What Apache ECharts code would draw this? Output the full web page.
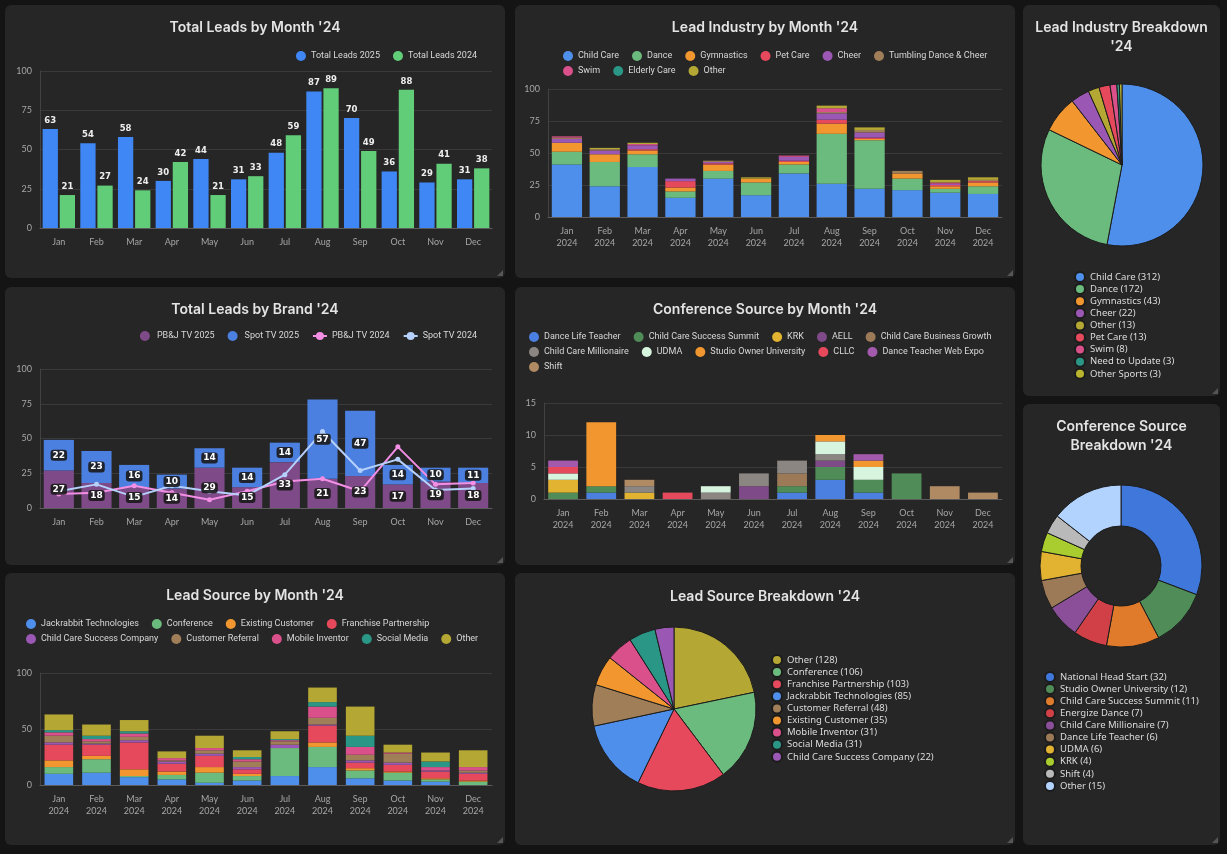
<!DOCTYPE html>
<html>
<head>
<meta charset="utf-8">
<script src="https://cdn.jsdelivr.net/npm/echarts@6/dist/echarts.min.js"></script>
<style>
body { margin: 0; background: #141414; width: 1227px; height: 854px; overflow: hidden; }
.panel { position: absolute; background: #262626; border-radius: 6px; }
.panel::after { content: ''; position: absolute; right: 2px; bottom: 2px; width: 0; height: 0;
  border-left: 6px solid transparent; border-bottom: 6px solid #555; }
.chart { width: 100%; height: 100%; }
</style>
</head>
<body>
<div class="panel" style="left:5px;top:5px;width:500px;height:273px"><div id="p1" class="chart"></div></div>
<div class="panel" style="left:515px;top:5px;width:500px;height:273px"><div id="p2" class="chart"></div></div>
<div class="panel" style="left:1023px;top:5px;width:197px;height:391px"><div id="p3" class="chart"></div></div>
<div class="panel" style="left:5px;top:287px;width:500px;height:278px"><div id="p4" class="chart"></div></div>
<div class="panel" style="left:515px;top:287px;width:500px;height:278px"><div id="p5" class="chart"></div></div>
<div class="panel" style="left:1023px;top:404px;width:197px;height:441px"><div id="p6" class="chart"></div></div>
<div class="panel" style="left:5px;top:573px;width:500px;height:272px"><div id="p7" class="chart"></div></div>
<div class="panel" style="left:515px;top:573px;width:500px;height:272px"><div id="p8" class="chart"></div></div>

<script>
// ---- data ----
const months = ['Jan', 'Feb', 'Mar', 'Apr', 'May', 'Jun', 'Jul', 'Aug', 'Sep', 'Oct', 'Nov', 'Dec']
const monthLabels2024 = ['Jan\n2024', 'Feb\n2024', 'Mar\n2024', 'Apr\n2024', 'May\n2024', 'Jun\n2024',
  'Jul\n2024', 'Aug\n2024', 'Sep\n2024', 'Oct\n2024', 'Nov\n2024', 'Dec\n2024']

// Total Leads by Month
const totalLeads2025 = [63, 54, 58, 30, 44, 31, 48, 87, 70, 36, 29, 31]
const totalLeads2024 = [21, 27, 24, 42, 21, 33, 59, 89, 49, 88, 41, 38]

// Lead Industry by Month
const industryNames = ['Child Care', 'Dance', 'Gymnastics', 'Pet Care', 'Cheer', 'Tumbling Dance & Cheer', 'Swim', 'Elderly Care', 'Other']
const indChildCare = [41, 24, 39, 15, 30, 17, 34, 26, 22, 21, 19, 18]
const indDance = [10, 19, 10, 5, 6, 10, 7, 39, 38, 9, 3, 6]
const indGymnastics = [7, 6, 3, 3, 5, 3, 2, 8, 1, 4, 2, 3]
const indPetCare = [0, 0, 1, 5, 1, 0, 1, 3, 1, 0, 1, 1]
const indCheer = [3, 3, 3, 2, 1, 0, 3, 5, 4, 0, 1, 0]
const indTumbling = [1, 1, 0, 0, 1, 0, 0, 1, 2, 2, 0, 1]
const indSwim = [1, 0, 1, 0, 0, 0, 1, 3, 0, 0, 1, 0]
const indElderly = [0, 0, 0, 0, 0, 0, 0, 0, 0, 0, 0, 0]
const indOther = [0, 1, 1, 0, 0, 1, 0, 2, 2, 0, 2, 2]

// Lead Industry Breakdown
const industryPieNames = ['Child Care', 'Dance', 'Gymnastics', 'Cheer', 'Other', 'Pet Care', 'Swim', 'Need to Update', 'Other Sports']
const industryPieValues = [312, 172, 43, 22, 13, 13, 8, 3, 3]

// Total Leads by Brand
const pbjTv2025 = [27, 18, 15, 14, 29, 15, 33, 21, 23, 17, 19, 18]
const spotTv2025 = [22, 23, 16, 10, 14, 14, 14, 57, 47, 14, 10, 11]
const pbjTv2024 = [10, 11, 16, 11, 6, 12, 19, 21, 12, 44, 17, 18]
const spotTv2024 = [12, 17, 8, 16, 12, 9, 24, 55, 27, 35, 13, 14]

// Conference Source by Month
const confNames = ['Dance Life Teacher', 'Child Care Success Summit', 'KRK', 'AELL', 'Child Care Business Growth',
  'Child Care Millionaire', 'UDMA', 'Studio Owner University', 'CLLC', 'Dance Teacher Web Expo', 'Shift']
const confDanceLife = [0, 1, 0, 0, 0, 0, 1, 3, 1, 0, 0, 0]
const confCCSummit = [1, 1, 0, 0, 0, 0, 1, 2, 2, 4, 0, 0]
const confKRK = [2, 0, 1, 0, 0, 0, 0, 0, 0, 0, 0, 0]
const confAELL = [0, 0, 0, 0, 0, 2, 0, 1, 0, 0, 0, 0]
const confCCBusiness = [0, 0, 0, 0, 0, 0, 2, 0, 0, 0, 0, 0]
const confCCMillionaire = [0, 0, 1, 0, 1, 2, 2, 1, 0, 0, 0, 0]
const confUDMA = [1, 0, 0, 0, 1, 0, 0, 2, 2, 0, 0, 0]
const confStudioOwner = [0, 10, 0, 0, 0, 0, 0, 1, 1, 0, 0, 0]
const confCLLC = [1, 0, 0, 1, 0, 0, 0, 0, 0, 0, 0, 0]
const confDanceWebExpo = [1, 0, 0, 0, 0, 0, 0, 0, 1, 0, 0, 0]
const confShift = [0, 0, 1, 0, 0, 0, 0, 0, 0, 0, 2, 1]

// Conference Source Breakdown
const confPieNames = ['National Head Start', 'Studio Owner University', 'Child Care Success Summit', 'Energize Dance',
  'Child Care Millionaire', 'Dance Life Teacher', 'UDMA', 'KRK', 'Shift', 'Other']
const confPieValues = [32, 12, 11, 7, 7, 6, 6, 4, 4, 15]

// Lead Source by Month
const sourceNames = ['Jackrabbit Technologies', 'Conference', 'Existing Customer', 'Franchise Partnership',
  'Child Care Success Company', 'Customer Referral', 'Mobile Inventor', 'Social Media', 'Other']
const srcJackrabbit = [10, 11, 7, 5, 2, 4, 8, 16, 6, 4, 3, 0]
const srcConference = [6, 12, 1, 4, 9, 4, 25, 18, 7, 7, 2, 3]
const srcExisting = [6, 3, 6, 3, 5, 2, 0, 4, 2, 1, 1, 1]
const srcFranchise = [14, 10, 24, 7, 10, 4, 0, 15, 5, 6, 6, 6]
const srcCCSuccess = [2, 1, 2, 2, 2, 2, 3, 1, 2, 2, 1, 1]
const srcReferral = [6, 2, 3, 1, 3, 5, 3, 6, 5, 8, 0, 2]
const srcMobile = [3, 2, 3, 2, 2, 2, 1, 10, 7, 1, 3, 3]
const srcSocial = [2, 3, 2, 0, 0, 2, 1, 4, 10, 0, 5, 0]
const srcOther = [14, 10, 10, 6, 11, 6, 7, 13, 26, 7, 8, 15]

// Lead Source Breakdown
const sourcePieNames = ['Other', 'Conference', 'Franchise Partnership', 'Jackrabbit Technologies', 'Customer Referral',
  'Existing Customer', 'Mobile Inventor', 'Social Media', 'Child Care Success Company']
const sourcePieValues = [128, 106, 103, 85, 48, 35, 31, 31, 22]

// ---- styles ----
const C = {
  blue: '#4f8fec', green: '#6cbb7e', orange: '#f2972f', red: '#e6495b', purple: '#9a58b4',
  brown: '#a07e58', pink: '#d9508a', teal: '#2a9686', olive: '#b5a733'
}
const titleStyle = { color: '#e4e4e4', fontSize: 14, fontWeight: 600, fontFamily: 'Inter', lineHeight: 19 }
const legendText = { color: '#d8d8d8', fontSize: 9, fontFamily: 'Roboto' }
const pieLegendText = { color: '#dcdcdc', fontSize: 9.5, fontFamily: 'Noto Sans', lineHeight: 10 }
const axisLabel = { color: '#a6a6a6', fontSize: 9, fontFamily: 'Lato', lineHeight: 12 }

function makeAxes(cats, max, interval) {
  return {
    xAxis: {
      type: 'category',
      data: cats,
      axisLine: { lineStyle: { color: '#5c5c5c' } },
      axisTick: { lineStyle: { color: '#5c5c5c' } },
      axisLabel: Object.assign({ margin: 8 }, axisLabel)
    },
    yAxis: {
      type: 'value',
      min: 0,
      max: max,
      interval: interval,
      axisLine: { show: true, lineStyle: { color: '#424242' } },
      splitLine: { lineStyle: { color: '#3a3a3a' } },
      axisLabel: axisLabel
    }
  }
}

function stacked(names, colors, arrays, gap) {
  return names.map((n, i) => ({
    name: n,
    type: 'bar',
    stack: 'total',
    data: arrays[i],
    barCategoryGap: gap,
    itemStyle: { color: colors[i] }
  }))
}

// one legend component per row so the rows sit where the reference has them
function legendRows(rows, left, top, rowStep) {
  return rows.map((names, r) => ({
    data: names,
    left: left,
    top: top + r * rowStep,
    icon: 'circle',
    itemWidth: 10,
    itemHeight: 10,
    itemGap: 13,
    padding: 0,
    textStyle: legendText
  }))
}

function pieLegend(names, values, left, top) {
  return {
    orient: 'vertical', left: left, top: top, icon: 'circle', itemWidth: 10, itemHeight: 10, itemGap: 0.1,
    padding: 0,
    textStyle: pieLegendText,
    formatter: function(name) { return name + ' (' + values[names.indexOf(name)] + ')' }
  }
}

function init(id, option) {
  const chart = echarts.init(document.getElementById(id))
  chart.setOption(Object.assign({ animation: false, backgroundColor: 'transparent' }, option))
}

// 1. Total Leads by Month
const ax1 = makeAxes(months, 100, 25)
const topLabel = { show: true, position: 'top', distance: 4, color: '#eee', fontSize: 8.5, fontWeight: 'bold', fontFamily: 'DejaVu Sans' }
init('p1', {
  title: { text: 'Total Leads by Month \'24', left: 'center', top: 8, textStyle: titleStyle },
  legend: { right: 28, top: 46, padding: 0, icon: 'circle', itemWidth: 10, itemHeight: 10, itemGap: 13, textStyle: legendText },
  grid: { left: 35, right: 13, top: 66, bottom: 50 },
  xAxis: ax1.xAxis,
  yAxis: ax1.yAxis,
  series: [
    { name: 'Total Leads 2025', type: 'bar', data: totalLeads2025, barGap: '12%', barCategoryGap: '14%',
      itemStyle: { color: '#3e87f5' }, label: topLabel },
    { name: 'Total Leads 2024', type: 'bar', data: totalLeads2024,
      itemStyle: { color: '#62cd78' }, label: topLabel }
  ]
})

// 2. Lead Industry by Month
const ax2 = makeAxes(monthLabels2024, 100, 25)
const indColors = [C.blue, C.green, C.orange, C.red, C.purple, C.brown, C.pink, C.teal, C.olive]
init('p2', {
  title: { text: 'Lead Industry by Month \'24', left: 'center', top: 8, textStyle: titleStyle },
  legend: legendRows([industryNames.slice(0, 6), industryNames.slice(6)], 48, 46, 15),
  grid: { left: 33, right: 13, top: 84, bottom: 61 },
  xAxis: ax2.xAxis,
  yAxis: ax2.yAxis,
  series: stacked(industryNames, indColors,
    [indChildCare, indDance, indGymnastics, indPetCare, indCheer, indTumbling, indSwim, indElderly, indOther], '20%')
})

// 3. Lead Industry Breakdown
const indPieColors = [C.blue, C.green, C.orange, C.purple, C.olive, C.red, C.pink, C.teal, '#b9b62e']
init('p3', {
  title: { text: 'Lead Industry Breakdown\n\'24', left: 'center', top: 8, textStyle: titleStyle },
  legend: pieLegend(industryPieNames, industryPieValues, 51, 266),
  series: [{
    type: 'pie', center: [99, 160], radius: 81, startAngle: 90, label: { show: false },
    itemStyle: { borderColor: '#1c1c1c', borderWidth: 1 },
    data: industryPieNames.map((n, i) => ({ name: n, value: industryPieValues[i], itemStyle: { color: indPieColors[i] } }))
  }]
})

// 4. Total Leads by Brand
const ax4 = makeAxes(months, 100, 25)
const brandLabel = {
  show: true, position: 'inside', color: '#fff', fontSize: 9, fontWeight: 'bold', fontFamily: 'DejaVu Sans',
  backgroundColor: 'rgba(25,25,25,0.9)', borderRadius: 3, padding: [1, 2]
}
init('p4', {
  title: { text: 'Total Leads by Brand \'24', left: 'center', top: 8, textStyle: titleStyle },
  legend: {
    right: 28, top: 44, padding: 0, itemGap: 13, textStyle: legendText, itemWidth: 14, itemHeight: 10,
    data: [{ name: 'PB&J TV 2025', icon: 'circle' }, { name: 'Spot TV 2025', icon: 'circle' }, 'PB&J TV 2024', 'Spot TV 2024']
  },
  grid: { left: 35, right: 13, top: 82, bottom: 57 },
  xAxis: ax4.xAxis,
  yAxis: ax4.yAxis,
  series: [
    { name: 'PB&J TV 2025', type: 'bar', stack: 'brand', data: pbjTv2025, barCategoryGap: '20%',
      itemStyle: { color: '#7e4a88' } },
    { name: 'Spot TV 2025', type: 'bar', stack: 'brand', data: spotTv2025,
      itemStyle: { color: '#4b7fe0' } },
    { name: 'PB&J TV 2024', type: 'line', data: pbjTv2024, symbol: 'circle', symbolSize: 5, z: 3,
      itemStyle: { color: '#f28ee4' }, lineStyle: { width: 2, color: '#f28ee4' } },
    { name: 'Spot TV 2024', type: 'line', data: spotTv2024, symbol: 'circle', symbolSize: 5, z: 3,
      itemStyle: { color: '#b5d0fb' }, lineStyle: { width: 2, color: '#b5d0fb' } },
    // transparent copies of the bars carrying the value labels above the lines
    { name: 'pbjLabels', type: 'bar', stack: 'labels', data: pbjTv2025, barGap: '-100%', z: 5, silent: true,
      itemStyle: { color: 'transparent' }, label: brandLabel },
    { name: 'spotLabels', type: 'bar', stack: 'labels', data: spotTv2025, z: 5, silent: true,
      itemStyle: { color: 'transparent' }, label: brandLabel }
  ]
})

// 5. Conference Source by Month
const ax5 = makeAxes(monthLabels2024, 15, 5)
const confColors = ['#4b7fe0', '#4f8c57', '#e2b231', '#7e4a88', '#9c7a58', '#8b8681', '#d6f4de', '#f2972f', '#e6495b', '#a45aac', '#b08a62']
init('p5', {
  title: { text: 'Conference Source by Month \'24', left: 'center', top: 8, textStyle: titleStyle },
  legend: legendRows([confNames.slice(0, 5), confNames.slice(5, 10), confNames.slice(10)], 14, 45, 15),
  grid: { left: 29, right: 13, top: 116, bottom: 66 },
  xAxis: ax5.xAxis,
  yAxis: ax5.yAxis,
  series: stacked(confNames, confColors,
    [confDanceLife, confCCSummit, confKRK, confAELL, confCCBusiness, confCCMillionaire, confUDMA,
      confStudioOwner, confCLLC, confDanceWebExpo, confShift], '22%')
})

// 6. Conference Source Breakdown
const confPieColors = ['#3f78da', '#4f8c57', '#e07b2c', '#d04046', '#8a4f98', '#9c7a58', '#e2b231', '#a9cc2e', '#b9b9b9', '#b3d3ff']
init('p6', {
  title: { text: 'Conference Source\nBreakdown \'24', left: 'center', top: 8, textStyle: titleStyle },
  legend: pieLegend(confPieNames, confPieValues, 21, 267),
  series: [{
    type: 'pie', center: [98, 162], radius: [40, 81], startAngle: 90, label: { show: false },
    itemStyle: { borderColor: '#1c1c1c', borderWidth: 1 },
    data: confPieNames.map((n, i) => ({ name: n, value: confPieValues[i], itemStyle: { color: confPieColors[i] } }))
  }]
})

// 7. Lead Source by Month
const ax7 = makeAxes(monthLabels2024, 100, 50)
const srcColors = [C.blue, C.green, C.orange, C.red, C.purple, C.brown, C.pink, C.teal, C.olive]
init('p7', {
  title: { text: 'Lead Source by Month \'24', left: 'center', top: 8, textStyle: titleStyle },
  legend: legendRows([sourceNames.slice(0, 4), sourceNames.slice(4)], 21, 46, 15),
  grid: { left: 35, right: 13, top: 100, bottom: 60 },
  xAxis: ax7.xAxis,
  yAxis: ax7.yAxis,
  series: stacked(sourceNames, srcColors,
    [srcJackrabbit, srcConference, srcExisting, srcFranchise, srcCCSuccess, srcReferral, srcMobile, srcSocial, srcOther], '24%')
})

// 8. Lead Source Breakdown
const srcPieColors = [C.olive, C.green, C.red, C.blue, C.brown, C.orange, C.pink, C.teal, C.purple]
init('p8', {
  title: { text: 'Lead Source Breakdown \'24', left: 'center', top: 9, textStyle: titleStyle },
  legend: pieLegend(sourcePieNames, sourcePieValues, 256, 81),
  series: [{
    type: 'pie', center: [159, 136], radius: 82, startAngle: 90, label: { show: false },
    itemStyle: { borderColor: '#1c1c1c', borderWidth: 1 },
    data: sourcePieNames.map((n, i) => ({ name: n, value: sourcePieValues[i], itemStyle: { color: srcPieColors[i] } }))
  }]
})
</script>
</body>
</html>
